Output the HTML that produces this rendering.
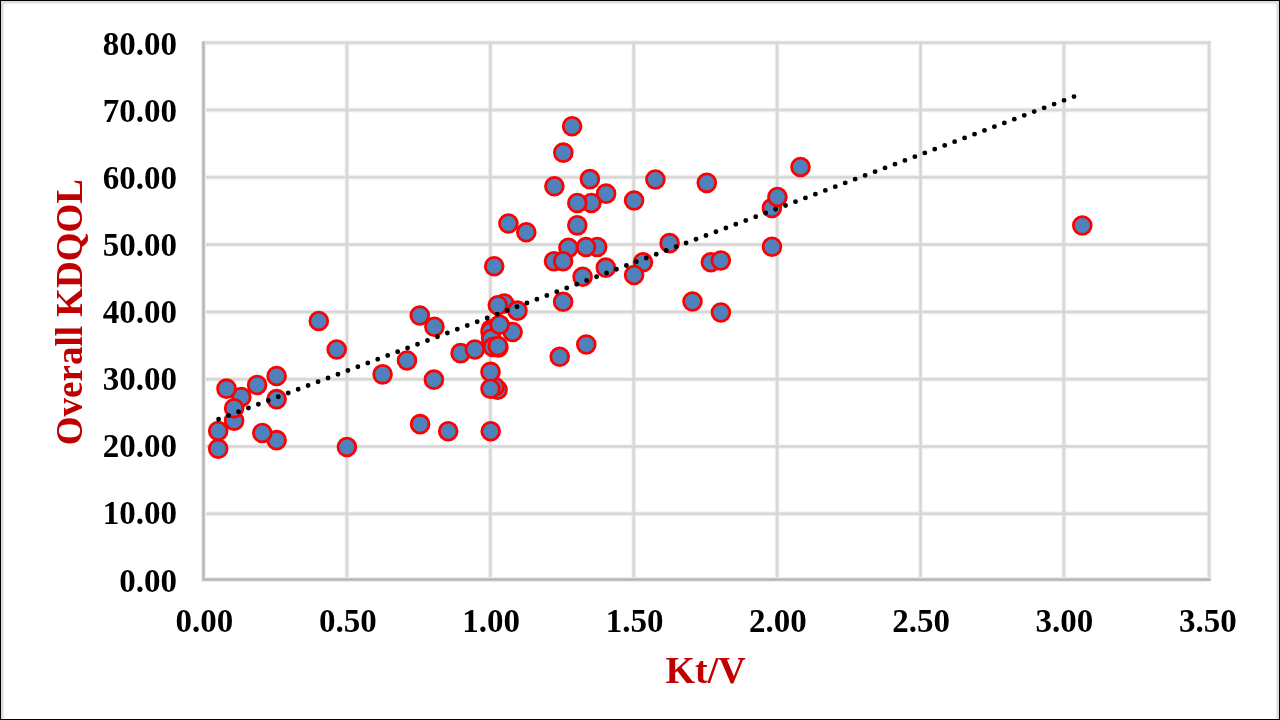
<!DOCTYPE html>
<html lang="en"><head><meta charset="utf-8"><title>Kt/V vs Overall KDQOL</title>
<style>
html,body{margin:0;padding:0;background:#fff;}
body{width:1280px;height:720px;overflow:hidden;position:relative;}
svg{position:absolute;left:0;top:0;display:block;}
text{font-family:"Liberation Serif","Times New Roman",serif;font-weight:bold;}
.tk{font-size:33px;fill:#000;}
.ttl{font-size:37.5px;fill:#c00000;}
.m circle{fill:#4f81bd;stroke:#ff0000;stroke-width:2.8;}
</style></head><body>
<svg width="1280" height="720" viewBox="0 0 1280 720">
<rect x="0" y="0" width="1280" height="720" fill="#fff"/>
<!-- frame -->
<path d="M2.2 720V2.2H1277.7V720" fill="none" stroke="#dcdcdc" stroke-width="2.6"/>
<rect x="0.5" y="0.5" width="1279" height="719" fill="none" stroke="#000" stroke-width="1"/>

<g id="chart">
<defs><path id="grid" d="M346.9 41.2V579.6M490.3 41.2V579.6M633.7 41.2V579.6M777.1 41.2V579.6M920.5 41.2V579.6M1063.9 41.2V579.6M1209.1 41.2V579.6M203.5 42.7H1210.6M203.5 110.0H1210.6M203.5 177.3H1210.6M203.5 244.6H1210.6M203.5 311.9H1210.6M203.5 379.2H1210.6M203.5 446.5H1210.6M203.5 513.8H1210.6"/><path id="axis" d="M203.5 41.2V579.6H1210.6"/></defs>
<g fill="none">
<use href="#grid" stroke="#f4f4f4" stroke-width="5"/>
<use href="#grid" stroke="#dedede" stroke-width="3"/>
<use href="#grid" stroke="#d4d4d4" stroke-width="1.2"/>
<use href="#axis" stroke="#ececec" stroke-width="5"/>
<use href="#axis" stroke="#c8c8c8" stroke-width="3"/>
<use href="#axis" stroke="#b4b4b4" stroke-width="1.1"/>
</g>
<g class="tk" text-anchor="end">
<text x="177" y="54.7">80.00</text>
<text x="177" y="121.8">70.00</text>
<text x="177" y="188.9">60.00</text>
<text x="177" y="256.0">50.00</text>
<text x="177" y="323.1">40.00</text>
<text x="177" y="390.2">30.00</text>
<text x="177" y="457.3">20.00</text>
<text x="177" y="524.4">10.00</text>
<text x="177" y="591.5">0.00</text>
</g>
<g class="tk" text-anchor="middle">
<text x="204.4" y="631.6">0.00</text>
<text x="347.8" y="631.6">0.50</text>
<text x="491.1" y="631.6">1.00</text>
<text x="634.5" y="631.6">1.50</text>
<text x="777.9" y="631.6">2.00</text>
<text x="921.2" y="631.6">2.50</text>
<text x="1064.4" y="631.6">3.00</text>
<text x="1207.9" y="631.6">3.50</text>
</g>
<text class="ttl" style="font-size:38px" text-anchor="middle" x="705.6" y="682.9">Kt/V</text>
<text class="ttl" style="font-size:37px" text-anchor="middle" transform="translate(81.5 312.1) rotate(-90)">Overall KDQOL</text>
<g class="m">
<circle cx="218.2" cy="448.75" r="8.9"/>
<circle cx="218.2" cy="431.05" r="8.9"/>
<circle cx="241.3" cy="397.05" r="8.9"/>
<circle cx="226.5" cy="388.65" r="8.9"/>
<circle cx="234.1" cy="420.65" r="8.9"/>
<circle cx="234.1" cy="408.25" r="8.9"/>
<circle cx="257.1" cy="385.05" r="8.9"/>
<circle cx="276.6" cy="376.05" r="8.9"/>
<circle cx="276.6" cy="399.15" r="8.9"/>
<circle cx="276.6" cy="440.15" r="8.9"/>
<circle cx="262.3" cy="432.95" r="8.9"/>
<circle cx="318.8" cy="321.05" r="8.9"/>
<circle cx="336.7" cy="349.55" r="8.9"/>
<circle cx="346.9" cy="447.05" r="8.9"/>
<circle cx="382.6" cy="374.35" r="8.9"/>
<circle cx="407.0" cy="360.45" r="8.9"/>
<circle cx="420.1" cy="424.15" r="8.9"/>
<circle cx="448.2" cy="431.25" r="8.9"/>
<circle cx="490.7" cy="431.25" r="8.9"/>
<circle cx="433.9" cy="379.65" r="8.9"/>
<circle cx="497.6" cy="389.70" r="8.9"/>
<circle cx="494.7" cy="386.80" r="8.9"/>
<circle cx="490.5" cy="371.90" r="8.9"/>
<circle cx="490.5" cy="388.70" r="8.9"/>
<circle cx="460.6" cy="353.15" r="8.9"/>
<circle cx="474.9" cy="349.45" r="8.9"/>
<circle cx="559.7" cy="356.75" r="8.9"/>
<circle cx="586.3" cy="344.45" r="8.9"/>
<circle cx="419.8" cy="315.55" r="8.9"/>
<circle cx="434.4" cy="326.75" r="8.9"/>
<circle cx="494.2" cy="266.25" r="8.9"/>
<circle cx="504.2" cy="303.45" r="8.9"/>
<circle cx="497.8" cy="305.25" r="8.9"/>
<circle cx="517.4" cy="310.65" r="8.9"/>
<circle cx="491.0" cy="329.25" r="8.9"/>
<circle cx="490.5" cy="331.85" r="8.9"/>
<circle cx="491.1" cy="338.85" r="8.9"/>
<circle cx="492.9" cy="347.05" r="8.9"/>
<circle cx="512.6" cy="332.05" r="8.9"/>
<circle cx="499.6" cy="324.75" r="8.9"/>
<circle cx="498.4" cy="347.55" r="8.9"/>
<circle cx="497.9" cy="346.15" r="8.9"/>
<circle cx="563.1" cy="301.75" r="8.9"/>
<circle cx="582.6" cy="276.75" r="8.9"/>
<circle cx="605.8" cy="267.65" r="8.9"/>
<circle cx="643.0" cy="262.25" r="8.9"/>
<circle cx="634.1" cy="275.05" r="8.9"/>
<circle cx="554.0" cy="261.25" r="8.9"/>
<circle cx="568.4" cy="247.85" r="8.9"/>
<circle cx="563.1" cy="261.25" r="8.9"/>
<circle cx="597.2" cy="246.95" r="8.9"/>
<circle cx="586.0" cy="246.95" r="8.9"/>
<circle cx="526.3" cy="232.25" r="8.9"/>
<circle cx="508.4" cy="223.55" r="8.9"/>
<circle cx="577.3" cy="225.35" r="8.9"/>
<circle cx="572.1" cy="126.25" r="8.9"/>
<circle cx="563.3" cy="152.65" r="8.9"/>
<circle cx="554.4" cy="186.25" r="8.9"/>
<circle cx="589.9" cy="179.15" r="8.9"/>
<circle cx="606.1" cy="193.65" r="8.9"/>
<circle cx="591.4" cy="202.95" r="8.9"/>
<circle cx="577.3" cy="202.95" r="8.9"/>
<circle cx="634.1" cy="200.55" r="8.9"/>
<circle cx="655.4" cy="179.45" r="8.9"/>
<circle cx="706.8" cy="182.85" r="8.9"/>
<circle cx="800.5" cy="166.95" r="8.9"/>
<circle cx="771.9" cy="207.95" r="8.9"/>
<circle cx="777.4" cy="197.05" r="8.9"/>
<circle cx="772.0" cy="246.75" r="8.9"/>
<circle cx="669.6" cy="243.15" r="8.9"/>
<circle cx="710.8" cy="262.25" r="8.9"/>
<circle cx="720.8" cy="260.45" r="8.9"/>
<circle cx="692.5" cy="301.55" r="8.9"/>
<circle cx="720.9" cy="312.45" r="8.9"/>
<circle cx="1082.3" cy="225.55" r="8.9"/>
</g>
<line x1="218.6" y1="419.3" x2="1074.3" y2="96.5" stroke="#000" stroke-width="4.9" stroke-linecap="round" stroke-dasharray="0 10.6307"/>
</g>
</svg></body></html>
